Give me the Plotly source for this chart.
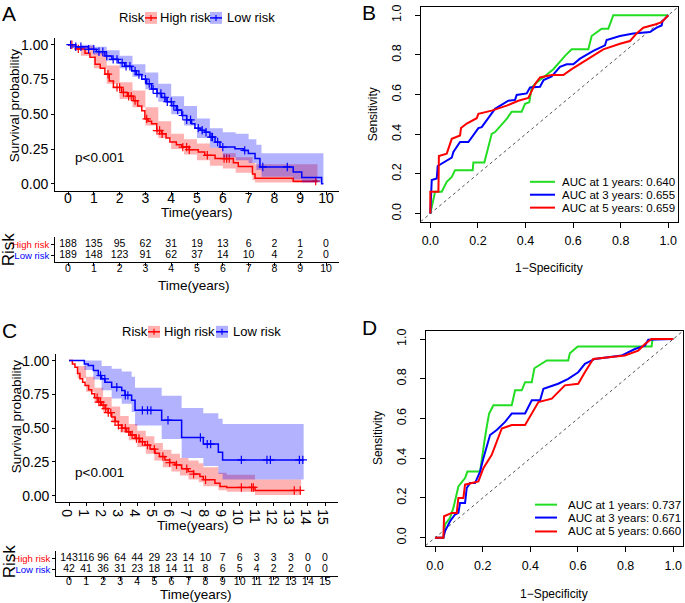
import numpy as np
import plotly.graph_objects as go

W, H = 685, 603
FONT = "Liberation Sans, Arial, sans-serif"
RED, BLUE, GREEN = "#FF0000", "#0000FF", "#22DD22"
RED_F, BLUE_F = "rgba(255,0,0,0.3)", "rgba(0,0,255,0.3)"

# ---------------- Panel A : KM (training) ----------------
A_high_t = [0, 0.3, 0.66, 0.85, 1.05, 1.25, 1.43, 1.6, 1.76, 2.08, 2.3, 2.53, 2.7, 2.86, 2.98, 3.1, 3.24, 3.44, 3.63, 3.8,
            3.95, 4.2, 4.41, 4.7, 5.05, 5.3, 5.7, 6.41, 6.6, 7.15, 7.25, 8.73]
A_high_s = [1.0, 0.97, 0.938, 0.91, 0.86, 0.83, 0.788, 0.74, 0.693, 0.657, 0.63, 0.598, 0.56, 0.526, 0.467, 0.45, 0.431, 0.383, 0.359, 0.33,
            0.30, 0.28, 0.264, 0.245, 0.229, 0.205, 0.181, 0.152, 0.125, 0.07, 0.04, 0.019]
A_high_end = 9.67
A_low_t = [0, 0.3, 0.79, 1.1, 1.43, 1.7, 1.95, 2.2, 2.47, 2.65, 2.86, 3.05, 3.24, 3.45, 3.63, 3.8, 4.02, 4.2, 4.41, 4.6,
           4.79, 4.92, 5.12, 5.31, 5.5, 5.7, 5.89, 6.47, 6.8, 6.99, 7.25, 7.44, 8.73, 9.06, 9.83]
A_low_s = [1.0, 0.985, 0.967, 0.95, 0.919, 0.895, 0.871, 0.845, 0.812, 0.785, 0.752, 0.72, 0.681, 0.65, 0.621, 0.59, 0.562, 0.53, 0.491, 0.46,
           0.431, 0.40, 0.385, 0.371, 0.336, 0.30, 0.264, 0.252, 0.24, 0.217, 0.181, 0.121, 0.085, 0.045, 0.0]
A_low_end = 9.9

A_high_bt = [0, 0.5, 1.0, 1.5, 2.0, 2.5, 3.0, 3.5, 4.0, 4.5, 5.0, 5.5, 6.0, 6.5, 7.15, 7.25, 8.73]
A_high_lo = [1.0, 0.92, 0.83, 0.72, 0.61, 0.55, 0.42, 0.33, 0.25, 0.21, 0.17, 0.13, 0.11, 0.08, 0.025, 0.01, 0.005]
A_high_hi = [1.0, 0.99, 0.94, 0.85, 0.73, 0.67, 0.55, 0.45, 0.36, 0.32, 0.29, 0.26, 0.22, 0.19, 0.15, 0.14, 0.14]
A_low_bt = [0, 0.5, 1.0, 1.5, 2.0, 2.5, 3.0, 3.5, 4.0, 4.5, 5.0, 5.5, 6.0, 6.5, 7.0, 7.3, 7.5, 8.73, 9.06, 9.83]
A_low_lo = [1.0, 0.965, 0.93, 0.885, 0.83, 0.77, 0.68, 0.59, 0.50, 0.42, 0.33, 0.26, 0.19, 0.17, 0.15, 0.10, 0.05, 0.03, 0.01, 0.0]
A_low_hi = [1.0, 1.0, 0.985, 0.96, 0.92, 0.86, 0.80, 0.72, 0.63, 0.56, 0.47, 0.40, 0.37, 0.36, 0.32, 0.28, 0.22, 0.22, 0.22, 0.22]

A_high_cens = [0.15, 0.4, 1.55, 1.9, 2.0, 2.15, 2.35, 2.45, 2.6, 3.05, 3.45, 3.55, 3.65, 4.45, 4.6, 4.7, 5.4, 6.05, 6.15, 6.25, 9.6]
A_low_cens = [0.1, 0.3, 0.5, 0.8, 1.0, 1.2, 1.35, 1.5, 1.75, 1.9, 2.1, 2.25, 2.4, 2.6, 2.75, 3.0, 3.15, 3.3, 3.45, 3.6,
              3.75, 3.85, 4.0, 4.1, 4.25, 4.45, 4.6, 4.75, 5.05, 5.2, 5.35, 5.55, 5.6, 5.8, 6.0, 6.85, 7.55, 8.5]

A_times = list(range(0, 11))
A_risk_high = [188, 135, 95, 62, 31, 19, 13, 6, 2, 1, 0]
A_risk_low = [189, 148, 123, 91, 62, 37, 14, 10, 4, 2, 0]

# ---------------- Panel C : KM (validation) ----------------
C_high_t = [0, 0.2, 0.35, 0.5, 0.64, 0.8, 0.94, 1.15, 1.33, 1.5, 1.72, 1.9, 2.11, 2.3, 2.5, 2.7, 2.89, 3.1, 3.38, 3.6,
            3.87, 4.15, 4.45, 4.75, 5.04, 5.3, 5.62, 5.9, 6.21, 6.6, 6.99, 7.3, 7.67, 7.87, 8.55, 8.85, 9.24, 10.9]
C_high_s = [1.0, 0.975, 0.951, 0.905, 0.866, 0.84, 0.816, 0.785, 0.755, 0.725, 0.693, 0.67, 0.645, 0.615, 0.583, 0.55, 0.522, 0.5, 0.473, 0.45,
            0.424, 0.4, 0.375, 0.345, 0.314, 0.29, 0.265, 0.245, 0.228, 0.2, 0.179, 0.16, 0.142, 0.118, 0.093, 0.068, 0.061, 0.039]
C_high_end = 13.6
C_low_t = [0, 0.9, 1.13, 1.43, 1.72, 1.91, 2.11, 2.5, 3.09, 3.28, 3.67, 3.87, 5.43, 6.6, 7.87, 8.75, 9.0]
C_low_s = [1.0, 0.975, 0.963, 0.926, 0.89, 0.865, 0.84, 0.803, 0.779, 0.743, 0.706, 0.632, 0.559, 0.431, 0.382, 0.321, 0.265]
C_low_end = 13.75

C_high_bt = [0, 0.5, 1.0, 1.5, 2.0, 2.5, 3.0, 3.5, 4.0, 4.5, 5.0, 5.5, 6.0, 6.5, 7.0, 7.6, 7.87, 8.75, 9.24, 10.9]
C_high_lo = [1.0, 0.87, 0.77, 0.69, 0.61, 0.54, 0.47, 0.41, 0.36, 0.31, 0.26, 0.21, 0.18, 0.15, 0.12, 0.10, 0.07, 0.04, 0.03, 0.005]
C_high_hi = [1.0, 0.96, 0.88, 0.80, 0.73, 0.66, 0.59, 0.53, 0.48, 0.44, 0.39, 0.34, 0.31, 0.28, 0.26, 0.24, 0.21, 0.17, 0.155, 0.12]
C_low_bt = [0, 0.9, 1.43, 1.91, 2.5, 3.09, 3.67, 3.87, 5.43, 6.6, 7.87, 8.75, 9.0]
C_low_lo = [1.0, 0.93, 0.86, 0.78, 0.72, 0.68, 0.62, 0.52, 0.42, 0.28, 0.22, 0.16, 0.12]
C_low_hi = [1.0, 1.0, 1.0, 0.96, 0.94, 0.92, 0.88, 0.80, 0.74, 0.65, 0.61, 0.57, 0.53]

C_high_cens = [1.65, 1.75, 1.85, 2.0, 2.15, 2.3, 2.45, 2.7, 2.9, 3.1, 3.3, 3.5, 3.7, 3.95, 4.1, 4.3, 4.6, 5.0, 5.5, 5.9,
               6.3, 6.9, 7.3, 8.0, 10.1, 10.7, 10.8, 13.2, 13.55]
C_low_cens = [1.85, 2.1, 2.8, 3.3, 3.45, 4.3, 4.6, 4.8, 5.8, 7.7, 8.1, 8.3, 10.1, 11.6, 11.8, 13.5, 13.7]

C_times = list(range(0, 16))
C_risk_high = [143, 116, 96, 64, 44, 29, 23, 14, 10, 7, 6, 3, 3, 3, 0, 0]
C_risk_low = [42, 41, 36, 31, 23, 18, 14, 11, 8, 6, 5, 4, 2, 2, 0, 0]

# ---------------- Panel B : ROC (training) ----------------
B_1y_fpr = [0, .020, .048, .069, .090, .104, .178, .181, .227, .258, .272, .321, .342, .384, .398, .416, .426, .447, .482, .517,
            .566, .594, .664, .678, .720, .748, .769, 1.0]
B_1y_tpr = [0, .110, .110, .160, .185, .219, .219, .257, .257, .402, .411, .477, .514, .514, .553, .561, .636, .661, .694, .728,
            .795, .828, .828, .895, .932, .932, 1.0, 1.0]
B_3y_fpr = [0, .006, .027, .031, .090, .097, .125, .160, .202, .216, .251, .272, .328, .356, .363, .405, .419, .461, .476, .510,
            .545, .573, .601, .629, .685, .734, .741, .797, .853, .923, .951, .972, .976, 1.0]
B_3y_tpr = [0, .169, .177, .240, .282, .311, .361, .361, .431, .436, .494, .528, .569, .573, .598, .606, .636, .639, .673, .691,
            .740, .753, .753, .781, .820, .848, .875, .895, .908, .915, .937, .948, .970, 1.0]
B_5y_fpr = [0, 0, .034, .036, .069, .090, .125, .129, .153, .195, .202, .258, .321, .370, .412, .440, .461, .510, .559, .594,
            .643, .727, .797, .839, .867, .895, .944, .972, 1.0]
B_5y_tpr = [0, .110, .110, .290, .302, .377, .394, .431, .454, .481, .503, .519, .544, .569, .583, .653, .686, .698, .698, .728,
            .765, .828, .856, .870, .908, .937, .953, .965, 1.0]
B_labels = ["AUC at 1 years: 0.640", "AUC at 3 years: 0.655", "AUC at 5 years: 0.659"]

# ---------------- Panel D : ROC (validation) ----------------
D_1y_fpr = [0, .035, .042, .063, .077, .098, .126, .136, .189, .196, .207, .217, .227, .245, .322, .336, .364, .378, .406, .417,
            .469, .559, .566, .599, .909, .913, 1.0]
D_1y_tpr = [0, 0, .067, .100, .150, .258, .300, .333, .333, .383, .483, .558, .625, .667, .667, .742, .742, .783, .783, .853,
            .892, .892, .928, .963, .963, 1.0, 1.0]
D_3y_fpr = [0, .035, .042, .063, .084, .098, .105, .126, .133, .147, .168, .189, .203, .210, .231, .259, .294, .322, .378, .406,
            .441, .455, .517, .559, .601, .629, .671, .783, .839, .881, .895, 1.0]
D_3y_tpr = [0, 0, .033, .083, .117, .125, .175, .175, .250, .275, .275, .333, .400, .433, .517, .542, .583, .625, .625, .692,
            .692, .750, .775, .800, .833, .875, .900, .917, .950, .967, .997, 1.0]
D_5y_fpr = [0, .035, .038, .070, .091, .098, .119, .126, .182, .203, .238, .280, .322, .378, .434, .490, .545, .601, .629, .664,
            .797, .853, .881, .909, 1.0]
D_5y_tpr = [0, 0, .108, .125, .125, .200, .200, .267, .283, .350, .417, .550, .567, .567, .683, .700, .767, .775, .833, .900,
            .917, .942, .975, 1.0, 1.0]
D_labels = ["AUC at 1 years: 0.737", "AUC at 3 years: 0.671", "AUC at 5 years: 0.660"]

# ======================================================================
fig = go.Figure()


def fx(p):
    return p / W


def fy(p):
    return 1 - p / H


def step_at(t, s, q):
    idx = np.searchsorted(np.asarray(t), np.asarray(q), side="right") - 1
    return list(np.asarray(s)[idx])


def add_km(xa, ya, t, s, end, bt, lo, hi, cens, color, fill):
    bx = list(bt) + [end]
    fig.add_trace(go.Scatter(x=bx, y=list(lo) + [lo[-1]], mode="lines", line=dict(width=0, shape="hv"),
                             xaxis=xa, yaxis=ya, showlegend=False, hoverinfo="skip"))
    fig.add_trace(go.Scatter(x=bx, y=list(hi) + [hi[-1]], mode="lines", line=dict(width=0, shape="hv"),
                             fill="tonexty", fillcolor=fill, xaxis=xa, yaxis=ya, showlegend=False, hoverinfo="skip"))
    fig.add_trace(go.Scatter(x=list(t) + [end], y=list(s) + [s[-1]], mode="lines",
                             line=dict(color=color, width=1.5, shape="hv"), xaxis=xa, yaxis=ya, showlegend=False))
    fig.add_trace(go.Scatter(x=cens, y=step_at(t, s, cens), mode="markers",
                             marker=dict(symbol="cross-thin", size=6, line=dict(color=color, width=1.2)),
                             xaxis=xa, yaxis=ya, showlegend=False))


def add_risk(xa, ya, times, high, low):
    fig.add_trace(go.Scatter(x=times, y=[1] * len(times), mode="text", text=[str(v) for v in high],
                             textfont=dict(size=10.5, color="black", family=FONT), xaxis=xa, yaxis=ya, showlegend=False))
    fig.add_trace(go.Scatter(x=times, y=[0] * len(times), mode="text", text=[str(v) for v in low],
                             textfont=dict(size=10.5, color="black", family=FONT), xaxis=xa, yaxis=ya, showlegend=False))


def add_roc(xa, ya, curves):
    fig.add_trace(go.Scatter(x=[-0.04, 1.04], y=[-0.04, 1.04], mode="lines",
                             line=dict(color="#555555", width=1, dash="3px,3px"), xaxis=xa, yaxis=ya, showlegend=False))
    for fpr, tpr, col in curves:
        fig.add_trace(go.Scatter(x=fpr, y=tpr, mode="lines", line=dict(color=col, width=2),
                                 xaxis=xa, yaxis=ya, showlegend=False))


add_km("x", "y", A_high_t, A_high_s, A_high_end, A_high_bt, A_high_lo, A_high_hi, A_high_cens, RED, RED_F)
add_km("x", "y", A_low_t, A_low_s, A_low_end, A_low_bt, A_low_lo, A_low_hi, A_low_cens, BLUE, BLUE_F)
add_risk("x2", "y2", A_times, A_risk_high, A_risk_low)
add_roc("x3", "y3", [(B_1y_fpr, B_1y_tpr, GREEN), (B_3y_fpr, B_3y_tpr, BLUE), (B_5y_fpr, B_5y_tpr, RED)])
add_km("x4", "y4", C_high_t, C_high_s, C_high_end, C_high_bt, C_high_lo, C_high_hi, C_high_cens, RED, RED_F)
add_km("x4", "y4", C_low_t, C_low_s, C_low_end, C_low_bt, C_low_lo, C_low_hi, C_low_cens, BLUE, BLUE_F)
add_risk("x5", "y5", C_times, C_risk_high, C_risk_low)
add_roc("x6", "y6", [(D_1y_fpr, D_1y_tpr, GREEN), (D_3y_fpr, D_3y_tpr, BLUE), (D_5y_fpr, D_5y_tpr, RED)])

km_ax = dict(showline=True, linecolor="black", linewidth=1, ticks="outside", ticklen=3, tickcolor="black",
             showgrid=False, zeroline=False, tickfont=dict(size=14, color="black", family=FONT))
roc_ax = dict(showline=True, mirror=True, linecolor="black", linewidth=1, ticks="outside", ticklen=5,
              tickcolor="black", showgrid=False, zeroline=False, tickfont=dict(size=12.5, color="black", family=FONT),
              range=[-0.04, 1.04], tickvals=[0, 0.2, 0.4, 0.6, 0.8, 1.0],
              ticktext=["0.0", "0.2", "0.4", "0.6", "0.8", "1.0"])
risk_y = dict(showline=True, linecolor="black", linewidth=1, ticks="outside", ticklen=3, tickcolor="black",
              showgrid=False, zeroline=False, range=[-0.64, 1.64], tickvals=[0, 1],
              ticktext=["<span style='color:#0000FF'>Low risk</span>", "<span style='color:#FF0000'>High risk</span>"],
              tickfont=dict(size=9.5, family=FONT))

layout = dict(
    width=W, height=H, margin=dict(l=0, r=0, t=0, b=0), paper_bgcolor="white", plot_bgcolor="white",
    showlegend=False, font=dict(family=FONT, color="black"),
    # A
    xaxis=dict(km_ax, domain=[fx(55.1), fx(338.9)], range=[-0.5, 10.5], tickvals=A_times, anchor="y",
               ticklabelstandoff=-9),
    yaxis=dict(km_ax, domain=[fy(189), fy(35)], range=[-0.05, 1.05], tickvals=[0, 0.25, 0.5, 0.75, 1.0],
               ticktext=["0.00", "0.25", "0.50", "0.75", "1.00"], anchor="x"),
    xaxis2=dict(km_ax, domain=[fx(55.1), fx(338.9)], range=[-0.5, 10.5], tickvals=A_times, anchor="y2",
                tickfont=dict(size=10.5, color="black", family=FONT), ticklen=3, ticklabelstandoff=-7),
    yaxis2=dict(risk_y, domain=[fy(261), fy(236)], anchor="x2"),
    # B
    xaxis3=dict(roc_ax, domain=[fx(420.8), fx(677.8)], anchor="y3", ticklabelstandoff=2),
    yaxis3=dict(roc_ax, domain=[fy(220), fy(4.3)], anchor="x3", tickangle=-90, ticklabelstandoff=9),
    # C
    xaxis4=dict(km_ax, domain=[fx(56.2), fx(337.8)], range=[-0.75, 15.75], tickvals=C_times, anchor="y4",
                ticklabelstandoff=-7),
    yaxis4=dict(km_ax, domain=[fy(502.8), fy(353.2)], range=[-0.05, 1.05], tickvals=[0, 0.25, 0.5, 0.75, 1.0],
                ticktext=["0.00", "0.25", "0.50", "0.75", "1.00"], anchor="x4"),
    xaxis5=dict(km_ax, domain=[fx(56.2), fx(337.8)], range=[-0.75, 15.75], tickvals=C_times, anchor="y5",
                tickfont=dict(size=10.5, color="black", family=FONT), ticklen=3, ticklabelstandoff=-8),
    yaxis5=dict(risk_y, domain=[fy(577), fy(552)], anchor="x5"),
    # D
    xaxis6=dict(roc_ax, domain=[fx(425.5), fx(682.8)], anchor="y6", ticklabelstandoff=3),
    yaxis6=dict(roc_ax, domain=[fy(546.3), fy(330.3)], anchor="x6", tickangle=-90, ticklabelstandoff=9),
)
fig.update_layout(**layout)

ann = []
shapes = []


def text(xp, yp, s, size, xanchor="center", angle=0, color="black"):
    ann.append(dict(x=fx(xp), y=fy(yp), xref="paper", yref="paper", text=s, showarrow=False,
                    font=dict(size=size, color=color, family=FONT), xanchor=xanchor, yanchor="middle",
                    textangle=angle))


# panel letters
for lab, xp, yp in [("A", 9, 11), ("B", 369, 10), ("C", 9, 330), ("D", 369, 327)]:
    text(xp, yp, lab, 21)

# KM axis titles
text(14, 103, "Survival probability", 13.5, angle=-90)
text(197, 211, "Time(years)", 13.5)
text(8, 248, "Risk", 17, angle=-90)
text(194, 284, "Time(years)", 13.5)
text(16, 416, "Survival probability", 13.5, angle=-90)
text(193, 526, "Time(years)", 13.5)
text(9, 562, "Risk", 17, angle=-90)
text(196, 595, "Time(years)", 13.5)

# p-values
ann.append(dict(x=0.2, y=0.19, xref="x", yref="y", text="p<0.001", showarrow=False,
                font=dict(size=13.5, family=FONT, color="black"), xanchor="left", yanchor="middle"))
ann.append(dict(x=0.25, y=0.17, xref="x4", yref="y4", text="p<0.001", showarrow=False,
                font=dict(size=13.5, family=FONT, color="black"), xanchor="left", yanchor="middle"))


# KM legends
def km_legend(y0, x_risk, xk1, xt1, xk2, xt2):
    text(x_risk, y0, "Risk", 13, xanchor="left")
    for xk, col, fill in [(xk1, RED, RED_F), (xk2, BLUE, BLUE_F)]:
        shapes.append(dict(type="rect", xref="paper", yref="paper", x0=fx(xk), x1=fx(xk + 12), y0=fy(y0 + 6),
                           y1=fy(y0 - 6), fillcolor=fill, line=dict(width=0)))
        shapes.append(dict(type="line", xref="paper", yref="paper", x0=fx(xk), x1=fx(xk + 12), y0=fy(y0), y1=fy(y0),
                           line=dict(color=col, width=1.5)))
        shapes.append(dict(type="line", xref="paper", yref="paper", x0=fx(xk + 6), x1=fx(xk + 6), y0=fy(y0 + 3),
                           y1=fy(y0 - 3), line=dict(color=col, width=1.2)))
    text(xt1, y0, "High risk", 13, xanchor="left")
    text(xt2, y0, "Low risk", 13, xanchor="left")


km_legend(15, 117, 145, 158, 210, 225)
km_legend(331, 120, 148, 162, 216, 231)


# ROC legends and axis titles
def roc_legend(xl0, xl1, xt, ys, labels):
    for y0, col, lab in zip(ys, [GREEN, BLUE, RED], labels):
        shapes.append(dict(type="line", xref="paper", yref="paper", x0=fx(xl0), x1=fx(xl1), y0=fy(y0), y1=fy(y0),
                           line=dict(color=col, width=2)))
        text(xt, y0, lab, 11.5, xanchor="left")


roc_legend(530, 555, 560, [180, 193, 206], B_labels)
roc_legend(535, 557, 566, [505, 518, 532], D_labels)
text(373, 112, "Sensitivity", 12, angle=-90)
text(549, 267, "1\u2212Specificity", 12)
text(378, 438, "Sensitivity", 12, angle=-90)
text(554, 595, "1\u2212Specificity", 12)

fig.update_layout(annotations=ann, shapes=shapes)
fig.write_html("out.html", config={"displayModeBar": False},
               post_script="document.body.style.margin='0px';document.body.style.overflow='hidden';")
